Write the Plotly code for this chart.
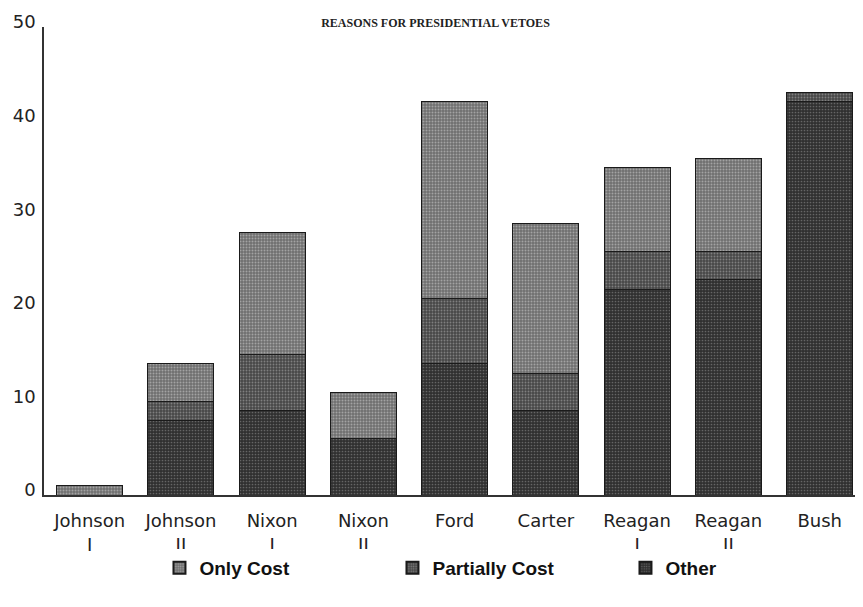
import plotly.graph_objects as go

categories = ["Johnson<br>I", "Johnson<br>II", "Nixon<br>I", "Nixon<br>II", "Ford",
              "Carter", "Reagan<br>I", "Reagan<br>II", "Bush"]
other = [0, 8, 9, 6, 14, 9, 22, 23, 42]
partially_cost = [0, 2, 6, 0, 7, 4, 4, 3, 1]
only_cost = [1, 4, 13, 5, 21, 16, 9, 10, 0]
y_ticks = [0, 10, 20, 30, 40, 50]

fig = go.Figure()
fig.add_trace(go.Bar(
    x=categories, y=other, name="<b>Other</b>",
    marker=dict(color="#3a3a3a", line=dict(color="#1a1a1a", width=1),
                pattern=dict(shape=".", fgcolor="#9a9a9a", bgcolor="#303030", size=3, solidity=0.25)),
))
fig.add_trace(go.Bar(
    x=categories, y=partially_cost, name="<b>Partially Cost</b>",
    marker=dict(color="#4a4a4a", line=dict(color="#1a1a1a", width=1),
                pattern=dict(shape=".", fgcolor="#b8b8b8", bgcolor="#474747", size=3, solidity=0.3)),
))
fig.add_trace(go.Bar(
    x=categories, y=only_cost, name="<b>Only Cost</b>",
    marker=dict(color="#888888", line=dict(color="#1a1a1a", width=1),
                pattern=dict(shape=".", fgcolor="#d8d8d8", bgcolor="#6e6e6e", size=3, solidity=0.35)),
))

fig.update_layout(
    barmode="stack",
    bargap=0.277,
    width=855, height=599,
    paper_bgcolor="white", plot_bgcolor="white",
    margin=dict(l=36, r=0, t=19, b=112, autoexpand=False),
    font=dict(family="DejaVu Sans", size=17, color="#222222"),
    title=dict(text="<b>REASONS FOR PRESIDENTIAL VETOES</b>", x=0.5, xanchor="center",
               y=0.982, yanchor="top", font=dict(family="Liberation Serif", size=12, color="#222222")),
    showlegend=True,
    legend=dict(orientation="h", x=0.141, xanchor="left", y=-0.115, yanchor="top",
                traceorder="reversed",
                font=dict(family="Liberation Sans", size=19, color="#111111"),
                entrywidth=188, itemsizing="constant"),
    xaxis=dict(range=[-0.5, 8.475], showline=True, linecolor="#333333", linewidth=1.5,
               ticks="", tickfont=dict(size=18), showgrid=False, automargin=False,
               ticklabelstandoff=9),
    yaxis=dict(range=[0, 50], tickvals=y_ticks, showline=True, linecolor="#333333",
               linewidth=1.5, ticks="", showgrid=False, zeroline=False, automargin=False,
               tickfont=dict(size=18), ticklabelshift=-5, ticklabelstandoff=3),
)

fig.write_html("out.html")
